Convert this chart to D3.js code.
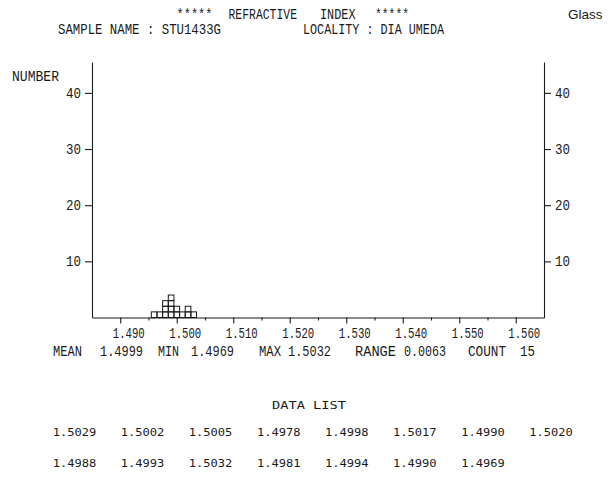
<!DOCTYPE html>
<html><head><meta charset="utf-8">
<script src="https://cdn.jsdelivr.net/npm/d3@7"></script>
<style>
body{margin:0;background:#fff}
text{fill:#1a1a1a}
.plot{font-family:"Liberation Mono","DejaVu Sans Mono",monospace;font-size:14.5px}
.dl{font-family:"DejaVu Sans Mono","Liberation Mono",monospace;font-size:11px}
</style>
</head><body><svg id="c" width="612" height="486"></svg>
<script>
// ---- data ----
const dataList = [1.5029, 1.5002, 1.5005, 1.4978, 1.4998, 1.5017, 1.4990, 1.5020,
                  1.4988, 1.4993, 1.5032, 1.4981, 1.4994, 1.4990, 1.4969];
const binCenters = [1.496, 1.497, 1.498, 1.499, 1.500, 1.501, 1.502, 1.503];
const binCounts  = [1, 1, 3, 4, 2, 1, 2, 1];
const xTickValues = [1.490, 1.500, 1.510, 1.520, 1.530, 1.540, 1.550, 1.560];
const xTickLabels = ["1.490", "1.500", "1.510", "1.520", "1.530", "1.540", "1.550", "1.560"];
const xMinorTicks = [1.495, 1.505, 1.515, 1.525, 1.535, 1.545, 1.555];
const yTickValues = [10, 20, 30, 40];
const yTickLabels = ["10", "20", "30", "40"];
const titleTokens = ["*****", "REFRACTIVE", "INDEX", "*****"];
const sampleText = "SAMPLE NAME : STU1433G";
const localityText = "LOCALITY : DIA UMEDA";
const cornerText = "Glass";
const yAxisTitle = "NUMBER";
const statNames = ["MEAN", "MIN", "MAX", "RANGE", "COUNT"];
const listTitle = "DATA  LIST";

// ---- drawing ----
const svg = d3.select("#c");
svg.append("rect").attr("width", 612).attr("height", 486).attr("fill", "#fff");

const x = d3.scaleLinear().domain([1.485, 1.565]).range([92, 544]);
const y = d3.scaleLinear().domain([0, 45.5]).range([317.5, 62]);
const ink = "#1a1a1a";

// histogram boxes (one square per observation)
const half = 0.0005;
const boxes = [];
binCenters.forEach((c, i) => { for (let k = 0; k < binCounts[i]; k++) boxes.push({c, k}); });
svg.append("g").selectAll("rect").data(boxes).join("rect")
  .attr("x", d => x(d.c - half))
  .attr("width", d => x(d.c + half) - x(d.c - half))
  .attr("y", d => y(d.k + 1))
  .attr("height", d => y(d.k) - y(d.k + 1))
  .attr("fill", "none").attr("stroke", ink).attr("stroke-width", 1);

// axes
const gL = svg.append("g").attr("class", "plot").attr("transform", `translate(${x.range()[0]},0)`)
  .call(d3.axisLeft(y).tickValues(yTickValues).tickSize(7).tickSizeOuter(0).tickPadding(4)
        .tickFormat((d, i) => yTickLabels[i]));
const gR = svg.append("g").attr("class", "plot").attr("transform", `translate(${x.range()[1]},0)`)
  .call(d3.axisRight(y).tickValues(yTickValues).tickSize(7).tickSizeOuter(0).tickPadding(4)
        .tickFormat((d, i) => yTickLabels[i]));
const gB = svg.append("g").attr("class", "plot").attr("transform", `translate(0,${y(0)})`)
  .call(d3.axisBottom(x).tickValues(xTickValues).tickSize(6).tickSizeOuter(0).tickPadding(4)
        .tickFormat((d, i) => xTickLabels[i]));
gB.selectAll(".tick text").attr("text-anchor", "start").attr("dx", -8)
  .attr("textLength", 32).attr("lengthAdjust", "spacingAndGlyphs");
[gL, gR].forEach(g => g.selectAll(".tick text").attr("textLength", 15).attr("lengthAdjust", "spacingAndGlyphs"));
const gM = svg.append("g").attr("transform", `translate(0,${y(0)})`)
  .call(d3.axisBottom(x).tickValues(xMinorTicks).tickSize(3).tickFormat(""));
gM.select(".domain").remove();
[gL, gR, gB, gM].forEach(g => {
  g.selectAll("line,path").attr("stroke", ink).attr("stroke-width", 1.1);
  g.selectAll("text").attr("fill", ink).attr("font-family", null).attr("font-size", null);
});

// headings
const P = svg.append("g").attr("class", "plot");
function txt(g, s, x0, y0, w) {
  const t = g.append("text").attr("x", x0).attr("y", y0).text(s);
  if (w) t.attr("textLength", w).attr("lengthAdjust", "spacingAndGlyphs");
  return t;
}
const titleX = [176.5, 228.5, 320, 375];
const titleW = [36, 68.5, 35.5, 34];
titleTokens.forEach((t, i) => txt(P, t, titleX[i], 19, titleW[i]));
txt(P, sampleText, 58, 33.5, 163);
txt(P, localityText, 303, 33.5, 141);
txt(P, yAxisTitle, 12, 81, 47);
svg.append("text").attr("x", 568).attr("y", 19)
  .attr("font-family", "Liberation Sans, Arial, sans-serif").attr("font-size", 13.5).text(cornerText);

// statistics line
const f4 = d3.format(".4f");
const stats = [f4(d3.mean(dataList)), f4(d3.min(dataList)), f4(d3.max(dataList)),
               f4(d3.max(dataList) - d3.min(dataList)), String(dataList.length)];
const nameX = [53, 158, 259, 355, 468];
const nameW = [29, 21, 22, 41, 38];
const valX  = [100, 191, 288, 404, 520];
const valW  = [43, 43, 43, 42, 15];
statNames.forEach((n, i) => {
  txt(P, n, nameX[i], 356, nameW[i]);
  txt(P, stats[i], valX[i], 356, valW[i]);
});

// data list
const D = svg.append("g").attr("class", "dl");
txt(D, listTitle, 272, 409, 74);
const col = d3.scaleLinear().domain([0, 7]).range([52.7, 529.3]);
const row = d3.scaleLinear().domain([0, 1]).range([436, 467]);
D.selectAll("text.v").data(dataList).join("text").attr("class", "v")
  .attr("x", (d, i) => col(i % 8)).attr("y", (d, i) => row(Math.floor(i / 8)))
  .attr("textLength", 43.5).attr("lengthAdjust", "spacingAndGlyphs").text(d => d.toFixed(4));
</script>
</body></html>
